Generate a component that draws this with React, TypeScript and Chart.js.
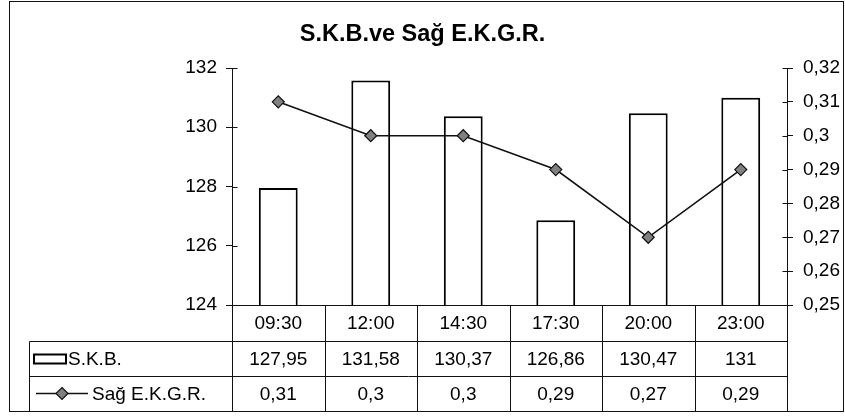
import React, { useEffect, useRef } from 'react';
import { Chart, registerables } from 'chart.js';

Chart.register(...registerables);

const chartTitle = 'S.K.B.ve Sağ E.K.G.R.';
const categories = ['09:30', '12:00', '14:30', '17:30', '20:00', '23:00'];
const skbName = 'S.K.B.';
const skbValues = [127.95, 131.58, 130.37, 126.86, 130.47, 131];
const ekgrName = 'Sağ E.K.G.R.';
const ekgrValues = [0.31, 0.3, 0.3, 0.29, 0.27, 0.29];

const FONT = '"Liberation Sans", Arial, Helvetica, sans-serif';
const fmt = (v: number) => String(Math.round(v * 100) / 100).replace('.', ',');

const tablePlugin = {
  id: 'dataTable',
  afterDraw(chart: any) {
    const ctx: CanvasRenderingContext2D = chart.ctx;
    const area = chart.chartArea;
    const xs = chart.scales.x;
    const ys = chart.scales.y;
    const y1s = chart.scales.y1;
    const n = categories.length;
    const w = (area.right - area.left) / n;
    const r0 = Math.round(area.bottom);
    const rows = [r0, 341, 376, 411];
    const legL = 29;
    const c = (v: number) => Math.round(v) + 0.5;
    ctx.save();
    ctx.strokeStyle = '#111';
    ctx.lineWidth = 1;
    const line = (x1: number, y1: number, x2: number, y2: number) => {
      ctx.beginPath();
      ctx.moveTo(c(x1), c(y1));
      ctx.lineTo(c(x2), c(y2));
      ctx.stroke();
    };
    // inner parts of the crossing tick marks
    ys.ticks.forEach((t: any) => {
      const y = ys.getPixelForValue(t.value);
      line(area.left, y, area.left + 5, y);
    });
    y1s.ticks.forEach((t: any) => {
      const y = y1s.getPixelForValue(t.value);
      line(area.right - 5, y, area.right, y);
    });
    // table grid
    line(area.left, rows[1], area.right, rows[1]);
    line(legL, rows[1], area.left, rows[1]);
    line(legL, rows[2], area.right, rows[2]);
    line(legL, rows[3], area.right, rows[3]);
    line(legL, rows[1], legL, rows[3]);
    for (let i = 0; i <= n; i++) {
      const bx = area.left + i * w;
      line(bx, rows[0], bx, rows[3]);
    }
    // outer frame
    ctx.strokeRect(9.5, 1.5, 834, 410);

    // texts
    ctx.fillStyle = '#000';
    ctx.font = `19px ${FONT}`;
    ctx.textAlign = 'center';
    ctx.textBaseline = 'middle';
    categories.forEach((cat, i) => {
      const cx = xs.getPixelForValue(i);
      ctx.fillText(cat, cx, (rows[0] + rows[1]) / 2 + 1);
      ctx.fillText(fmt(skbValues[i]), cx, (rows[1] + rows[2]) / 2 + 1);
      ctx.fillText(fmt(ekgrValues[i]), cx, (rows[2] + rows[3]) / 2 + 1);
    });

    // legend keys
    const m1 = (rows[1] + rows[2]) / 2;
    const m2 = (rows[2] + rows[3]) / 2;
    ctx.lineWidth = 2;
    ctx.strokeStyle = '#000';
    ctx.fillStyle = '#fff';
    ctx.fillRect(34, m1 - 4, 32, 9);
    ctx.strokeRect(34, m1 - 4, 32, 9);
    ctx.lineWidth = 1.5;
    ctx.strokeStyle = '#111';
    ctx.beginPath();
    ctx.moveTo(36, m2);
    ctx.lineTo(88, m2);
    ctx.stroke();
    ctx.beginPath();
    ctx.moveTo(62, m2 - 6);
    ctx.lineTo(68, m2);
    ctx.lineTo(62, m2 + 6);
    ctx.lineTo(56, m2);
    ctx.closePath();
    ctx.fillStyle = '#808080';
    ctx.fill();
    ctx.lineWidth = 1.2;
    ctx.stroke();

    ctx.fillStyle = '#000';
    ctx.textAlign = 'left';
    ctx.fillText(skbName, 68, m1 + 1);
    ctx.fillText(ekgrName, 92, m2 + 1);
    ctx.restore();
  },
};

export default function App() {
  const ref = useRef<HTMLCanvasElement>(null);
  useEffect(() => {
    document.body.style.margin = '0';
    const canvas = ref.current!;
    const chart = new Chart(canvas, {
      type: 'bar',
      data: {
        labels: categories,
        datasets: [
          {
            type: 'bar',
            label: skbName,
            data: skbValues,
            yAxisID: 'y',
            backgroundColor: '#ffffff',
            borderColor: '#000000',
            borderWidth: 2,
            barPercentage: 0.42,
            categoryPercentage: 1,
            order: 2,
          },
          {
            type: 'line',
            label: ekgrName,
            data: ekgrValues,
            yAxisID: 'y1',
            borderColor: '#111111',
            borderWidth: 1.6,
            pointStyle: 'rectRot',
            pointRadius: 6,
            pointBackgroundColor: '#808080',
            pointBorderColor: '#111111',
            pointBorderWidth: 1.2,
            tension: 0,
            order: 1,
          } as any,
        ],
      },
      options: {
        responsive: false,
        animation: false,
        layout: { padding: { top: 0, bottom: 111, left: 0, right: 0 } },
        plugins: {
          legend: { display: false },
          tooltip: { enabled: false },
          title: {
            display: true,
            text: chartTitle,
            color: '#000',
            font: { family: FONT, size: 23.5, weight: 'bold' },
            padding: { top: 20.7, bottom: 19.1 },
          },
        },
        scales: {
          x: {
            ticks: { display: false },
            grid: { display: false, drawTicks: false },
            border: { display: true, color: '#111', width: 1 },
            afterFit: (s: any) => {
              s.height = 0;
            },
          },
          y: {
            position: 'left',
            min: 124,
            max: 132,
            ticks: { stepSize: 2, color: '#000', font: { family: FONT, size: 19 }, padding: 9 },
            grid: { drawOnChartArea: false, tickLength: 6, color: '#111' },
            border: { color: '#111', width: 1 },
            afterFit: (s: any) => {
              s.width = 232;
            },
          },
          y1: {
            position: 'right',
            min: 0.25,
            max: 0.32,
            ticks: {
              stepSize: 0.01,
              color: '#000',
              font: { family: FONT, size: 19 },
              padding: 10,
              callback: (v: any) => fmt(Number(v)),
            },
            grid: { drawOnChartArea: false, tickLength: 6, color: '#111' },
            border: { color: '#111', width: 1 },
            afterFit: (s: any) => {
              s.width = 58;
            },
          },
        },
      } as any,
      plugins: [tablePlugin],
    });
    return () => chart.destroy();
  }, []);
  return <canvas ref={ref} width={845} height={416} style={{ display: 'block' }} />;
}
